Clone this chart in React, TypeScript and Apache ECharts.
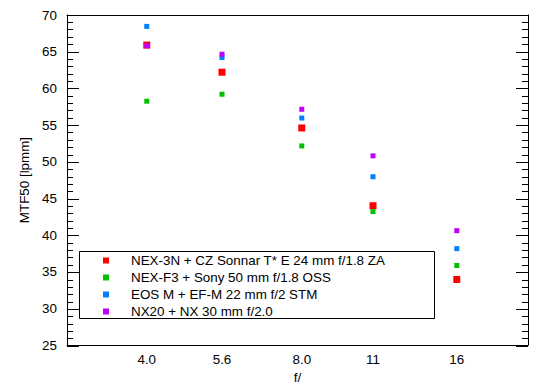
import React, { useEffect, useRef } from "react";
import * as echarts from "echarts";

const fStops = [4.0, 5.6, 8.0, 11, 16];
const fLabels = ["4.0", "5.6", "8.0", "11", "16"];
const seriesNames = [
  "NEX-3N + CZ Sonnar T* E 24 mm f/1.8 ZA",
  "NEX-F3 + Sony 50 mm f/1.8 OSS",
  "EOS M + EF-M 22 mm f/2 STM",
  "NX20 + NX 30 mm f/2.0",
];
const nex3nValues = [65.9, 62.2, 54.6, 44.0, 33.95];
const nexf3Values = [58.25, 59.2, 52.15, 43.2, 35.85];
const eosmValues = [68.45, 64.2, 55.95, 47.95, 38.15];
const nx20Values = [65.8, 64.65, 57.15, 50.8, 40.6];
const seriesValues = [nex3nValues, nexf3Values, eosmValues, nx20Values];
const seriesColors = ["#ff0000", "#00c000", "#0080ff", "#c000ff"];
const markerSizes = [7, 5, 5, 5];

export default function App() {
  const ref = useRef<HTMLDivElement>(null);
  useEffect(() => {
    if (!ref.current) return;
    const chart = echarts.init(ref.current, null, { renderer: "svg" });
    const font = "'Liberation Sans', Arial, sans-serif";
    const fs = 13.4;
    const top = 15;
    const bottom = 43;
    const yRange = { type: "value", min: 25, max: 70, interval: 5 };
    const yMain = {
      ...yRange,
      axisLine: { show: true, lineStyle: { color: "#000", width: 1 } },
      axisTick: { show: false },
      minorTick: { show: false },
      splitLine: { show: false },
      minorSplitLine: { show: false },
    };
    const xMain = {
      type: "log",
      logBase: 2,
      min: 2.8,
      max: 22,
      axisLine: { show: true, lineStyle: { color: "#000", width: 1 } },
      axisTick: { show: false },
      splitLine: { show: false },
      minorTick: { show: false },
    };
    // tick strips: small grids whose split lines act as the axis ticks
    const strips = [
      { left: 67, width: 12, minor: false },
      { left: 67, width: 6, minor: true },
      { left: 528 - 12, width: 12, minor: false },
      { left: 528 - 6, width: 6, minor: true },
    ];
    const grids: any[] = [{ left: 67, top, right: 22, bottom }];
    const xAxes: any[] = [
      {
        ...xMain,
        gridIndex: 0,
        position: "bottom",
        name: "f/",
        nameLocation: "middle",
        nameGap: 20,
        nameTextStyle: { color: "#000", fontSize: fs, fontFamily: font },
        axisLabel: {
          customValues: fStops,
          color: "#000",
          fontSize: fs,
          fontFamily: font,
          margin: 8,
          formatter: (v: number) => {
            const i = fStops.findIndex((s) => Math.abs(s - v) < 0.01);
            return i >= 0 ? fLabels[i] : "";
          },
        },
      },
      { ...xMain, gridIndex: 0, position: "top", axisLabel: { show: false } },
    ];
    const yAxes: any[] = [
      {
        ...yMain,
        gridIndex: 0,
        position: "left",
        name: "MTF50 [lpmm]",
        nameLocation: "middle",
        nameGap: 35,
        nameTextStyle: { color: "#000", fontSize: fs, fontFamily: font },
        axisLabel: { color: "#000", fontSize: fs, fontFamily: font, margin: 10 },
      },
      { ...yMain, gridIndex: 0, position: "right", axisLabel: { show: false } },
    ];
    strips.forEach((s, k) => {
      const gi = k + 1;
      grids.push({ left: s.left, width: s.width, top, bottom });
      xAxes.push({ type: "value", gridIndex: gi, min: 0, max: 1, show: false });
      yAxes.push({
        ...yRange,
        gridIndex: gi,
        show: true,
        axisLine: { show: false },
        axisTick: { show: false },
        axisLabel: { show: false },
        minorTick: { show: false, splitNumber: 5 },
        splitLine: { show: !s.minor, lineStyle: { color: "#000", width: 1 } },
        minorSplitLine: { show: s.minor, lineStyle: { color: "#000", width: 1 } },
      });
    });
    chart.setOption({
      animation: false,
      backgroundColor: "#ffffff",
      textStyle: { fontFamily: font },
      grid: grids,
      xAxis: xAxes,
      yAxis: yAxes,
      legend: {
        orient: "vertical",
        left: 103,
        top: 252,
        itemWidth: 6,
        itemHeight: 6,
        itemGap: 4,
        padding: [2, 0, 0, 0],
        textStyle: { color: "#000", fontSize: fs, fontFamily: font, padding: [0, 0, 0, 17], lineHeight: 13 },
        data: seriesNames.map((n, i) => ({ name: n, icon: "rect", itemStyle: { color: seriesColors[i] } })),
        z: 10,
      },
      graphic: [
        {
          type: "rect",
          left: 79,
          top: 251,
          shape: { width: 355, height: 67 },
          style: { fill: "#ffffff", stroke: "#000", lineWidth: 1 },
          z: 5,
          silent: true,
        },
      ],
      series: seriesNames.map((name, i) => ({
        name,
        type: "scatter",
        xAxisIndex: 0,
        yAxisIndex: 0,
        symbol: "rect",
        symbolSize: markerSizes[i],
        itemStyle: { color: seriesColors[i], opacity: 1 },
        data: fStops.map((f, j) => [f, seriesValues[i][j]]),
        z: 2 + i,
      })),
    });
    return () => chart.dispose();
  }, []);
  return <div ref={ref} style={{ position: "absolute", left: 0, top: 0, width: 550, height: 389 }} />;
}
